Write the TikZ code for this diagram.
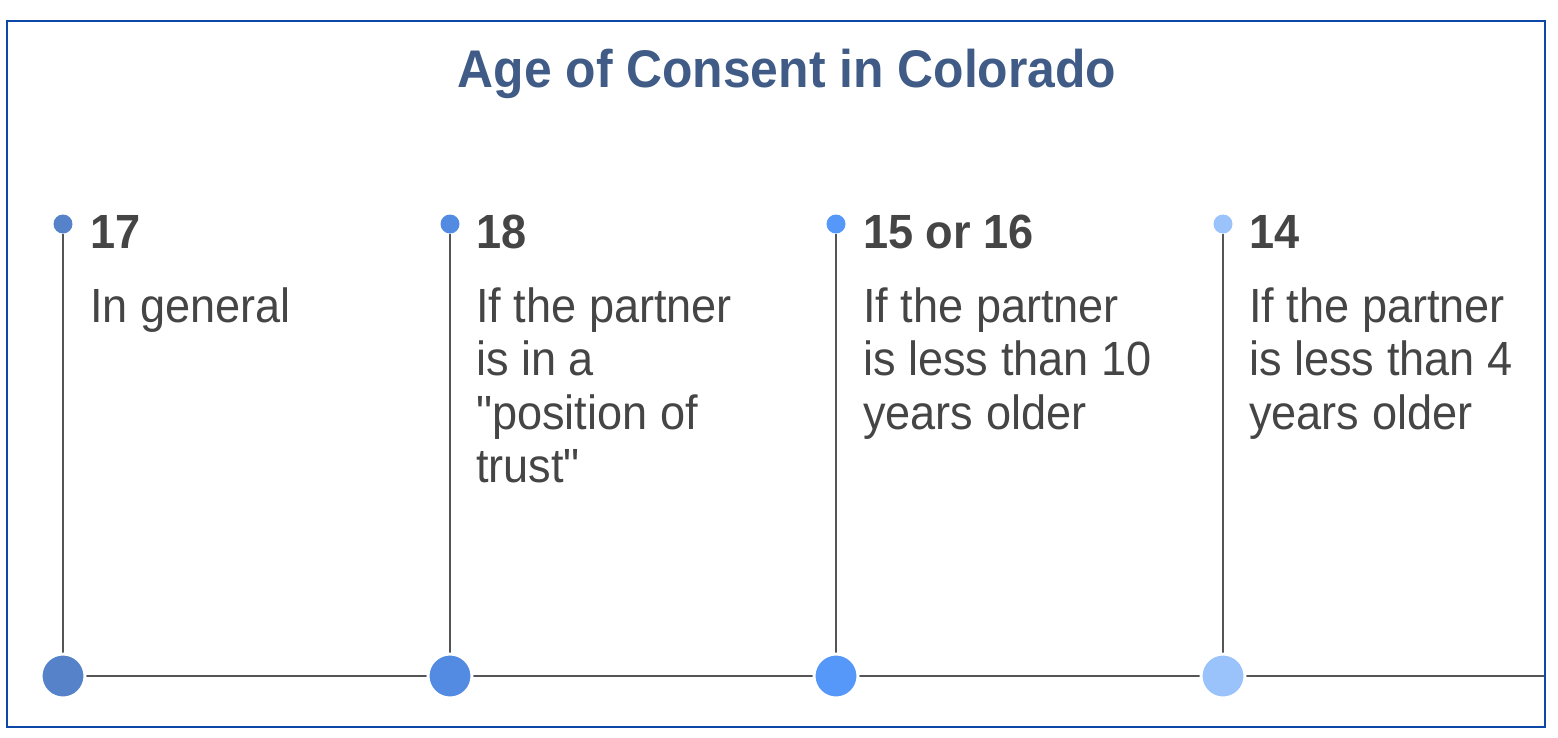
\documentclass[tikz,border=0pt]{standalone}
\usepackage{fontspec}
\newfontfamily\robotolike[FakeStretch=0.94]{Liberation Sans}
\usetikzlibrary{positioning,backgrounds}

\definecolor{frameblue}{HTML}{0B48A8}
\definecolor{titleblue}{HTML}{3F5B86}
\definecolor{textgrey}{HTML}{454545}
\definecolor{linegrey}{HTML}{555555}
\definecolor{dotone}{HTML}{5682CA}
\definecolor{dottwo}{HTML}{538BE3}
\definecolor{dotthree}{HTML}{5697FA}
\definecolor{dotfour}{HTML}{9AC2FB}

\begin{document}
\begin{tikzpicture}[x=1pt,y=-1pt,
                    stem/.style={draw=linegrey,line width=2pt},
                    small dot/.style={circle,inner sep=0pt,minimum size=19pt},
                    big dot/.style={circle,inner sep=0pt,minimum size=44pt,draw=white,line width=3pt},
                    title/.style={anchor=base,inner sep=0pt,text=titleblue,font=\robotolike\fontsize{53}{60}\selectfont\bfseries},
                    age/.style={anchor=base west,inner sep=0pt,text=textgrey,font=\robotolike\fontsize{48}{53.5}\selectfont\bfseries},
                    note/.style={anchor=base west,inner sep=0pt,align=left,text=textgrey,font=\robotolike\fontsize{48}{53.5}\selectfont}]
  \useasboundingbox (0,0) rectangle (1558,737);
  \draw[frameblue,line width=2.5pt] (7,21) rectangle (1545,727);

  \node[title] (title) at (787,87) {Age of Consent in Colorado};

  % timeline dots
  \foreach \i/\x/\col in {1/63/dotone,2/450/dottwo,3/836/dotthree,4/1223/dotfour} {
    \node[small dot,fill=\col] (top\i) at (\x,224) {};
    \node[big dot,fill=\col] (base\i) at (\x,676) {};
  }
  \coordinate (start) at (40,676);
  \coordinate (end) at (1545,676);

  \begin{scope}[on background layer]
    \draw[stem] (start) -- (end);
    \foreach \i in {1,...,4}
      \draw[stem] (top\i) -- (base\i);
  \end{scope}

  % ages and conditions (base = last line)
  \node[age] (age1) at (90,248) {17};
  \node[age] (age2) at (476,248) {18};
  \node[age] (age3) at (863,248) {15 or 16};
  \node[age] (age4) at (1249,248) {14};
  \node[note] (note1) at (90,322) {In general};
  \node[note] (note2) at (476,482.5) {If the partner\\is in a\\"position of\\trust"};
  \node[note] (note3) at (863,429) {If the partner\\is less than 10\\years older};
  \node[note] (note4) at (1249,429) {If the partner\\is less than 4\\years older};
\end{tikzpicture}
\end{document}
